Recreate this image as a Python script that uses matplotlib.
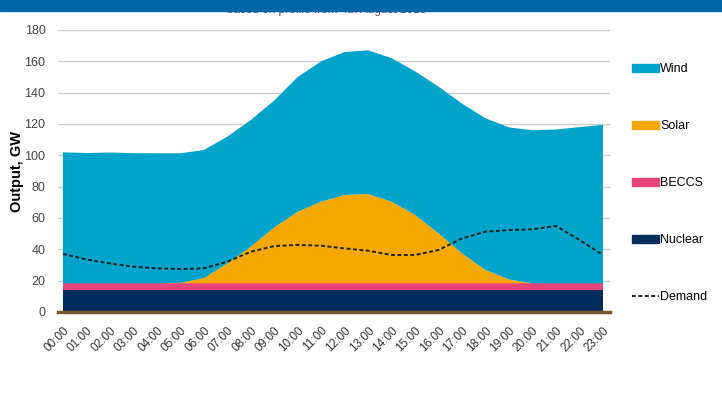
import matplotlib.pyplot as plt
from matplotlib.patches import Rectangle, Patch
from matplotlib.lines import Line2D

plt.rcParams['font.family'] = ['Liberation Sans', 'DejaVu Sans']

hours = ["%02d:00" % h for h in range(24)]
nuclear = [14] * 24
beccs = [4.3] * 24
# top of the solar band (stacked)
solar_top = [18.3, 18.3, 18.3, 18.3, 18.3, 18.6, 21.6, 31, 41.7, 54, 64, 70.4,
             74.7, 75.3, 70.4, 61.9, 50.2, 37.4, 26.8, 20.8, 18.3, 18.3, 18.3, 18.3]
# top of the wind band (total output)
total_top = [101.9, 101.5, 101.8, 101.4, 101.3, 101.3, 103.4, 111.9, 122.5, 135, 150, 160,
             166, 167, 162, 153.6, 143.8, 133, 123.6, 117.8, 116, 116.5, 118, 119.5]
demand = [37, 33.6, 31, 28.9, 27.9, 27.4, 27.9, 32.1, 38.5, 42.1, 42.8, 42.3,
          40.6, 39.1, 36.4, 36.4, 39.6, 47, 51.3, 52.3, 52.8, 54.9, 46, 36.4]

base = [n + b for n, b in zip(nuclear, beccs)]
solar = [max(s - b, 0) for s, b in zip(solar_top, base)]
wind = [t - s for t, s in zip(total_top, solar_top)]

c_wind = '#00a3c9'
c_solar = '#f5a800'
c_beccs = '#e8437a'
c_nuclear = '#012d5c'

fig = plt.figure(figsize=(7.22, 3.99), dpi=100)
ax = fig.add_axes([58 / 722, 1 - 312 / 399, 552 / 722, 282 / 399])

x = list(range(24))
ax.stackplot(x, nuclear, beccs, solar, wind,
             colors=[c_nuclear, c_beccs, c_solar, c_wind], linewidth=0, zorder=2)
ax.plot(x, demand, color='#222222', ls=(0, (2.0, 1.3)), lw=1.4, zorder=3)

ax.set_xlim(-0.21, 23.3)
ax.set_ylim(0, 180)
ax.set_yticks(range(0, 181, 20))
ax.yaxis.grid(True, color='#c8cdd2', lw=1, zorder=0)
ax.set_axisbelow(True)
ax.set_xticks(x)
ax.set_xticklabels(hours, rotation=45, ha='right', rotation_mode='anchor', fontsize=8.5, color='#333333')
ax.tick_params(axis='y', length=0, pad=9, labelsize=9, labelcolor='#444444')
ax.tick_params(axis='x', length=0, pad=9)
for s in ['top', 'right', 'left']:
    ax.spines[s].set_visible(False)
ax.spines['bottom'].set_color('#7a5626')
ax.spines['bottom'].set_linewidth(2.5)
ax.spines['bottom'].set_zorder(4)
ax.set_ylabel('Output, GW', fontsize=10.5, fontweight='bold')
ax.yaxis.set_label_coords(-0.062, 0.5)

# legend down the right side
handles = [Patch(color=c_wind), Patch(color=c_solar), Patch(color=c_beccs),
           Patch(color=c_nuclear),
           Line2D([0], [0], color='#222222', ls=(0, (2.0, 1.3)), lw=1.4)]
labels = ['Wind', 'Solar', 'BECCS', 'Nuclear', 'Demand']
fig.legend(handles, labels, loc='upper left', bbox_to_anchor=(621 / 722, 1 - 52 / 399),
           frameon=False, fontsize=9, labelspacing=3.6, handlelength=2.1,
           handleheight=0.55, handletextpad=0.15)

# header banner with the cut-off subtitle behind it
fig.text(327 / 722, 1 - 10 / 399, 'based on profile from 4th August 2016',
         ha='center', va='center', fontsize=8.5, color='#555555')
fig.patches.append(Rectangle((0, 1 - 11 / 399), 1, 11 / 399, transform=fig.transFigure,
                             color='#0066a6', zorder=5))

fig.savefig('out.png', dpi=100)
